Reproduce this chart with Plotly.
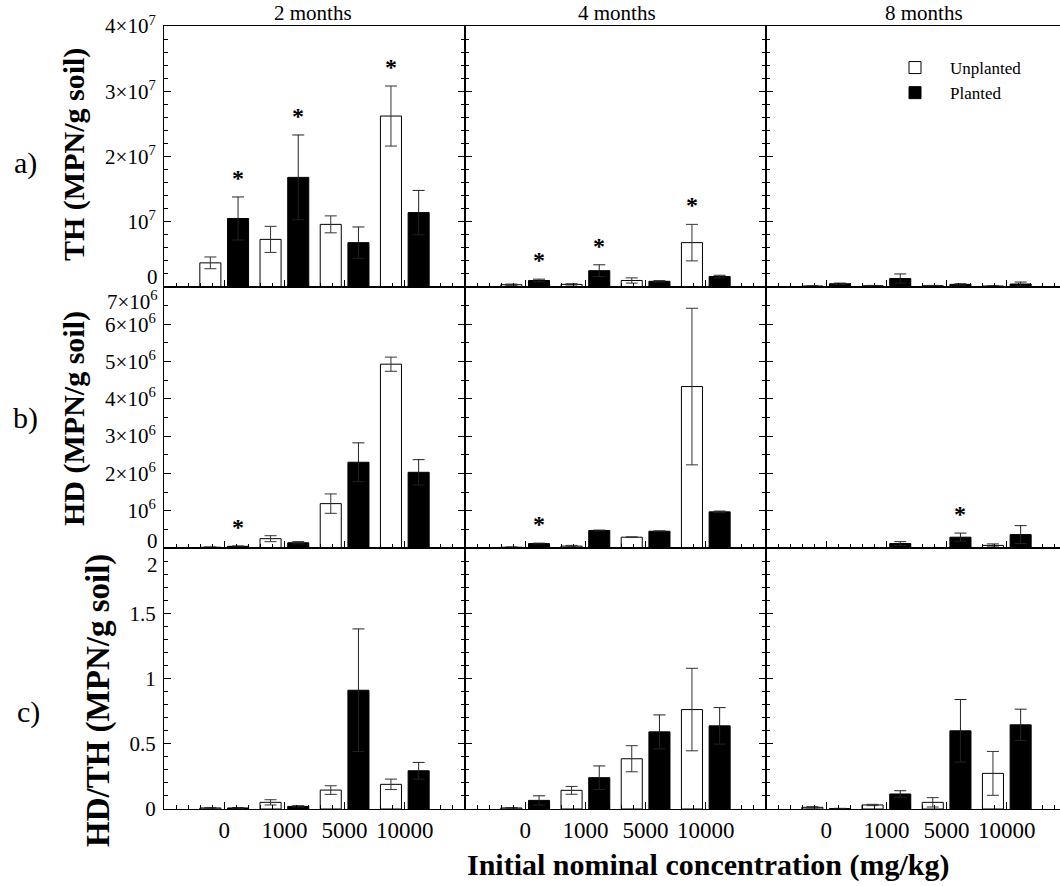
import plotly.graph_objects as go
from plotly.subplots import make_subplots

# ---------------- data ----------------
categories = ["0", "1000", "5000", "10000"]
months = ["2 months", "4 months", "8 months"]
row_labels = ["a)", "b)", "c)"]
row_titles = ["TH (MPN/g soil)", "HD (MPN/g soil)", "HD/TH (MPN/g soil)"]

# TH (MPN/g soil)
th_unpl_2 = [3.7e6, 7.3e6, 9.6e6, 2.62e7]
th_unpl_2_err = [0.9e6, 2.0e6, 1.3e6, 4.6e6]
th_pl_2 = [1.05e7, 1.68e7, 6.8e6, 1.14e7]
th_pl_2_err = [3.3e6, 6.5e6, 2.4e6, 3.4e6]
th_unpl_4 = [3.5e5, 4.0e5, 1.0e6, 6.8e6]
th_unpl_4_err = [1.0e5, 1.0e5, 4.0e5, 2.8e6]
th_pl_4 = [1.0e6, 2.5e6, 8.7e5, 1.6e6]
th_pl_4_err = [2.0e5, 9.0e5, 1.0e5, 2.0e5]
th_unpl_8 = [1.5e5, 2.0e5, 2.0e5, 1.5e5]
th_unpl_8_err = [5.0e4, 5.0e4, 5.0e4, 5.0e4]
th_pl_8 = [5.0e5, 1.3e6, 4.0e5, 4.6e5]
th_pl_8_err = [1.0e5, 7.0e5, 1.0e5, 3.0e5]

# HD (MPN/g soil)
hd_unpl_2 = [2.0e4, 2.5e5, 1.19e6, 4.93e6]
hd_unpl_2_err = [1.0e4, 8.0e4, 2.6e5, 1.9e5]
hd_pl_2 = [4.5e4, 1.4e5, 2.30e6, 2.03e6]
hd_pl_2_err = [1.0e4, 3.0e4, 5.2e5, 3.4e5]
hd_unpl_4 = [2.0e4, 5.0e4, 2.9e5, 4.33e6]
hd_unpl_4_err = [1.0e4, 2.0e4, 1.0e4, 2.1e6]
hd_pl_4 = [1.2e5, 4.7e5, 4.5e5, 9.7e5]
hd_pl_4_err = [1.0e4, 1.0e4, 1.0e4, 2.0e4]
hd_unpl_8 = [5.0e3, 1.0e4, 1.0e4, 7.0e4]
hd_unpl_8_err = [2.0e3, 5.0e3, 5.0e3, 4.0e4]
hd_pl_8 = [5.0e3, 1.2e5, 2.9e5, 3.6e5]
hd_pl_8_err = [2.0e3, 5.0e4, 1.1e5, 2.4e5]

# HD/TH ratio
r_unpl_2 = [0.008, 0.051, 0.145, 0.189]
r_unpl_2_err = [0.004, 0.020, 0.033, 0.040]
r_pl_2 = [0.008, 0.020, 0.91, 0.293]
r_pl_2_err = [0.003, 0.005, 0.47, 0.064]
r_unpl_4 = [0.008, 0.143, 0.385, 0.762]
r_unpl_4_err = [0.003, 0.030, 0.100, 0.316]
r_pl_4 = [0.066, 0.240, 0.591, 0.637]
r_pl_4_err = [0.035, 0.090, 0.130, 0.140]
r_unpl_8 = [0.013, 0.031, 0.051, 0.273]
r_unpl_8_err = [0.005, 0.005, 0.036, 0.168]
r_pl_8 = [0.003, 0.115, 0.599, 0.645]
r_pl_8_err = [0.002, 0.025, 0.240, 0.120]

# significance stars: indices of categories marked with "*"
sig_unpl = [[[3], [3], []], [[], [], []], [[], [], []]]
sig_pl = [[[0, 1], [0, 1], []], [[0], [0], [2]], [[], [], []]]

# y-axis ticks per row
th_tickvals = [0, 1e7, 2e7, 3e7, 4e7]
th_ticktext = ["0", "10<sup>7</sup>", "2×10<sup>7</sup>", "3×10<sup>7</sup>", "4×10<sup>7</sup>"]
hd_tickvals = [0, 1e6, 2e6, 3e6, 4e6, 5e6, 6e6, 7e6]
hd_ticktext = ["0", "10<sup>6</sup>", "2×10<sup>6</sup>", "3×10<sup>6</sup>", "4×10<sup>6</sup>",
               "5×10<sup>6</sup>", "6×10<sup>6</sup>", "7×10<sup>6</sup>"]
r_tickvals = [0, 0.5, 1, 1.5, 2]
r_ticktext = ["0", "0.5", "1", "1.5", "2"]

unpl = [[th_unpl_2, th_unpl_4, th_unpl_8], [hd_unpl_2, hd_unpl_4, hd_unpl_8], [r_unpl_2, r_unpl_4, r_unpl_8]]
unpl_err = [[th_unpl_2_err, th_unpl_4_err, th_unpl_8_err], [hd_unpl_2_err, hd_unpl_4_err, hd_unpl_8_err],
            [r_unpl_2_err, r_unpl_4_err, r_unpl_8_err]]
pl = [[th_pl_2, th_pl_4, th_pl_8], [hd_pl_2, hd_pl_4, hd_pl_8], [r_pl_2, r_pl_4, r_pl_8]]
pl_err = [[th_pl_2_err, th_pl_4_err, th_pl_8_err], [hd_pl_2_err, hd_pl_4_err, hd_pl_8_err],
          [r_pl_2_err, r_pl_4_err, r_pl_8_err]]

row_ranges = [[0, 4e7], [0, 7e6], [0, 2]]
row_minor = [2e6, 5e5, 0.1]
row_ticks = [(th_tickvals, th_ticktext), (hd_tickvals, hd_ticktext), (r_tickvals, r_ticktext)]
# end labels nudged inside their panel (as in the original): (tick index, pixel shift)
row_end_labels = [[(0, 10)], [(0, 7), (-1, -14)], [(-1, -17)]]

# ---------------- layout geometry ----------------
OFF = 0  # page margin is removed below, so figure pixels == page pixels
W, H = 1060 - OFF, 886 - OFF
FONT = "Liberation Serif"
col_px = [(164, 465), (465, 766), (766, 1060)]
row_px = [(26, 287), (287, 548), (548, 809)]
unit_px = 60.2
positions = list(range(1, len(categories) + 1))
offset = 0.23
YTICK_SIZE = 21


def px_x(p):
    return (p - OFF) / W


def px_y(p):
    return 1 - (p - OFF) / H


fig = make_subplots(rows=3, cols=3, horizontal_spacing=0, vertical_spacing=0)

annotations = []
for r in range(3):
    for c in range(3):
        idx = r * 3 + c + 1
        fig.add_trace(go.Bar(
            x=positions, y=unpl[r][c], name="Unplanted", legendgroup="g",
            showlegend=(r == 0 and c == 0),
            marker=dict(color="white", line=dict(color="black", width=1)),
            error_y=dict(type="data", array=unpl_err[r][c], symmetric=True,
                         color="#333333", thickness=1, width=6),
        ), row=r + 1, col=c + 1)
        fig.add_trace(go.Bar(
            x=positions, y=pl[r][c], name="Planted", legendgroup="g",
            showlegend=(r == 0 and c == 0),
            marker=dict(color="black", line=dict(color="black", width=1)),
            error_y=dict(type="data", array=pl_err[r][c], symmetric=True,
                         color="#222222", thickness=1, width=6),
        ), row=r + 1, col=c + 1)

        xa = "xaxis" if idx == 1 else f"xaxis{idx}"
        ya = "yaxis" if idx == 1 else f"yaxis{idx}"
        xref = "x" if idx == 1 else f"x{idx}"
        yref = "y" if idx == 1 else f"y{idx}"
        x0, x1 = col_px[c]
        y0, y1 = row_px[r]
        xmax = (x1 - x0) / unit_px
        fig.layout[xa].update(
            domain=[px_x(x0), min(1.0, px_x(x1))], range=[0, xmax], automargin=False,
            tickmode="array", tickvals=positions, ticktext=categories,
            showticklabels=(r == 2), ticks="inside", ticklen=7, tickcolor="black", tickwidth=1,
            showline=True, linecolor="black", linewidth=1, mirror=True,
            showgrid=False, zeroline=False,
            tickfont=dict(family=FONT, size=23, color="black"),
            minor=dict(tickmode="linear", tick0=0, dtick=0.2, ticks="inside",
                       ticklen=4, tickcolor="black", tickwidth=1, showgrid=False),
        )
        tv, tt = row_ticks[r]
        tt_axis = list(tt)
        if c == 0:
            for (ti, shift) in row_end_labels[r]:
                tt_axis[ti] = " "
                annotations.append(dict(
                    x=px_x(x0 - 5), xref="paper", y=tv[ti], yref=yref, yshift=shift,
                    text=tt[ti], showarrow=False, xanchor="right", yanchor="middle",
                    borderpad=0,
                    font=dict(family=FONT, size=YTICK_SIZE, color="black")))
        fig.layout[ya].update(
            domain=[px_y(y1), px_y(y0)], range=row_ranges[r], automargin=False,
            tickmode="array", tickvals=tv, ticktext=tt_axis,
            showticklabels=(c == 0), ticks="inside", ticklen=7, tickcolor="black", tickwidth=1,
            ticklabelstandoff=3,
            showline=True, linecolor="black", linewidth=1,
            mirror=("allticks" if c < 2 else False),
            showgrid=False, zeroline=False,
            tickfont=dict(family=FONT, size=YTICK_SIZE, color="black"),
            minor=dict(tickmode="linear", tick0=0, dtick=row_minor[r], ticks="inside",
                       ticklen=4, tickcolor="black", tickwidth=1, showgrid=False),
        )
        for i in sig_unpl[r][c]:
            annotations.append(dict(
                x=positions[i] - offset, y=unpl[r][c][i] + unpl_err[r][c][i],
                xref=xref, yref=yref, text="<b>*</b>", showarrow=False,
                yanchor="bottom", yshift=4, font=dict(family=FONT, size=24, color="black")))
        for i in sig_pl[r][c]:
            annotations.append(dict(
                x=positions[i] + offset, y=pl[r][c][i] + pl_err[r][c][i],
                xref=xref, yref=yref, text="<b>*</b>", showarrow=False,
                yanchor="bottom", yshift=4, font=dict(family=FONT, size=24, color="black")))

# column titles (fully inside the page, above the panel frames)
for m, cx in zip(months, [313, 617, 924]):
    annotations.append(dict(x=px_x(cx), y=1.0, xref="paper", yref="paper", text=m,
                            showarrow=False, xanchor="center", yanchor="top", borderpad=0,
                            font=dict(family=FONT, size=21, color="black")))
# row labels
for lab, (lx, ly) in zip(row_labels, [(25, 163), (25, 418), (28, 712)]):
    annotations.append(dict(x=px_x(lx), y=px_y(ly), xref="paper", yref="paper", text=lab,
                            showarrow=False, xanchor="center", yanchor="middle",
                            font=dict(family=FONT, size=30, color="black")))
# y titles
for t, (tx, ty), fs in zip(row_titles, [(74, 155), (74, 419), (98, 701)], [30, 30, 33]):
    annotations.append(dict(x=px_x(tx), y=px_y(ty), xref="paper", yref="paper", text=f"<b>{t}</b>",
                            showarrow=False, xanchor="center", yanchor="middle", textangle=-90,
                            font=dict(family=FONT, size=fs, color="black")))
# x title
annotations.append(dict(x=px_x(708), y=px_y(865), xref="paper", yref="paper",
                        text="<b>Initial nominal concentration (mg/kg)</b>",
                        showarrow=False, xanchor="center", yanchor="middle",
                        font=dict(family=FONT, size=30, color="black")))

fig.update_layout(
    template="none",
    width=W, height=H, autosize=False,
    margin=dict(l=0, r=0, t=0, b=0, autoexpand=False),
    paper_bgcolor="white", plot_bgcolor="white",
    font=dict(family=FONT, color="black"),
    barmode="group", bargap=0.08, bargroupgap=0.24,
    annotations=annotations,
    showlegend=True,
    legend=dict(x=px_x(880), y=px_y(50), xanchor="left", yanchor="top",
                bgcolor="rgba(0,0,0,0)", borderwidth=0,
                font=dict(family=FONT, size=17, color="black"),
                tracegroupgap=0, itemwidth=60),
)

fig.write_html("out.html",
               config={"displayModeBar": False},
               post_script="document.body.style.margin='0';document.body.style.overflow='hidden';")
